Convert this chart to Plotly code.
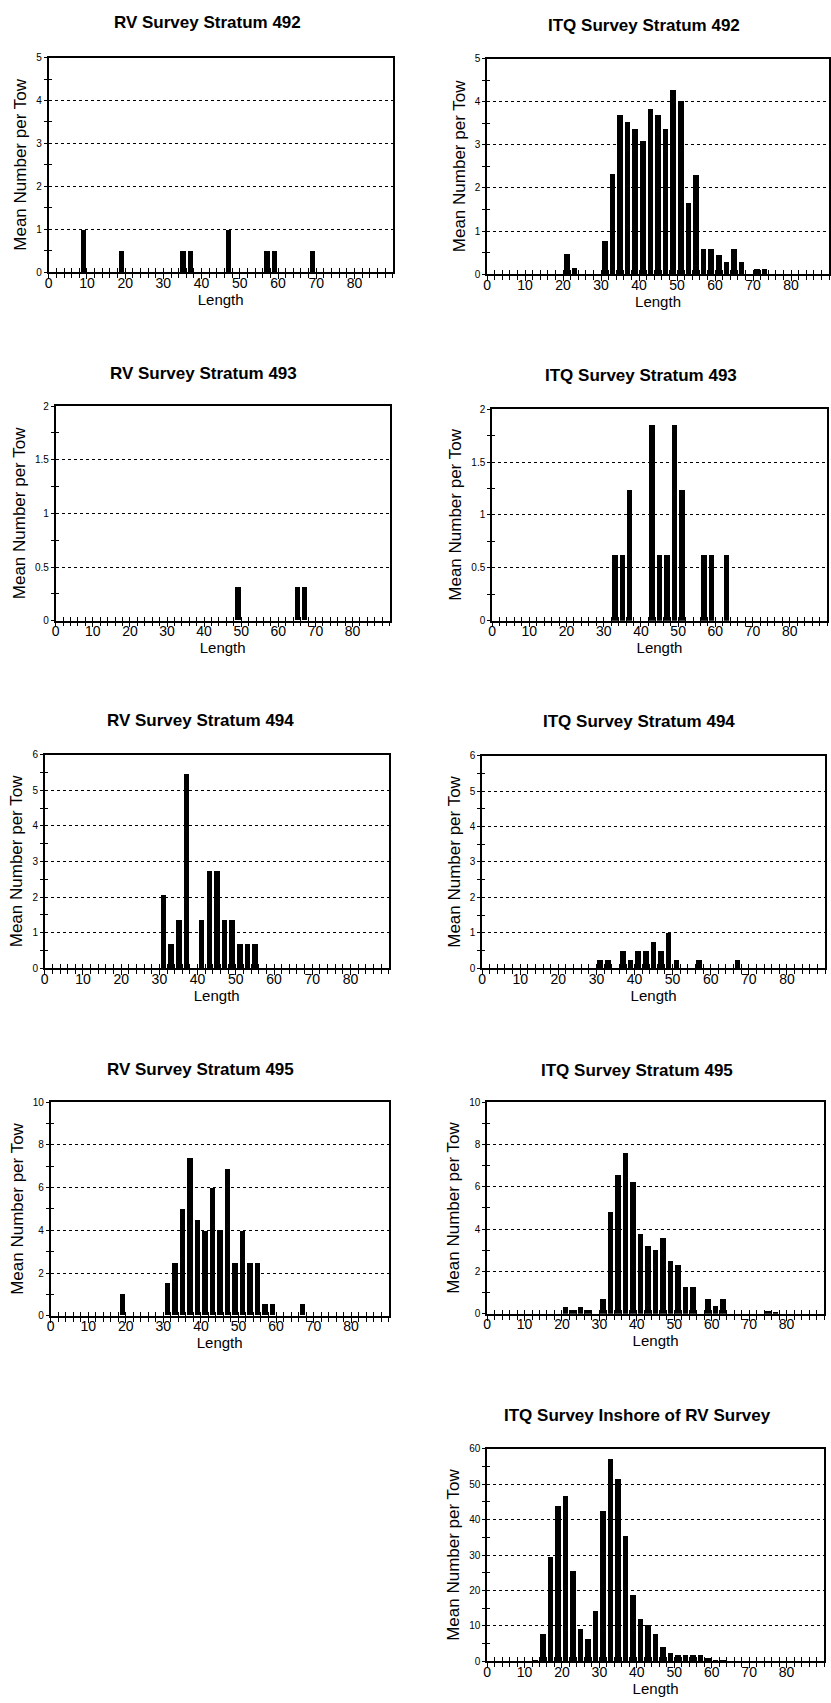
import plotly.graph_objects as go

# ---------------- data ----------------
rv492_len = [9, 19, 35, 37, 47, 57, 59, 69]
rv492_val = [1.0, 0.5, 0.5, 0.5, 1.0, 0.5, 0.5, 0.5]

itq492_len = [21, 23, 31, 33, 35, 37, 39, 41, 43, 45, 47, 49, 51, 53, 55, 57, 59, 61, 63, 65, 67, 71, 73]
itq492_val = [0.48, 0.15, 0.77, 2.32, 3.71, 3.54, 3.38, 3.09, 3.85, 3.70, 3.38, 4.29, 4.02, 1.66, 2.31,
              0.59, 0.59, 0.45, 0.29, 0.59, 0.28, 0.13, 0.13]

rv493_len = [49, 65, 67]
rv493_val = [0.31, 0.31, 0.31]

itq493_len = [33, 35, 37, 43, 45, 47, 49, 51, 57, 59, 63]
itq493_val = [0.62, 0.62, 1.23, 1.85, 0.62, 0.62, 1.85, 1.23, 0.62, 0.62, 0.62]

rv494_len = [31, 33, 35, 37, 41, 43, 45, 47, 49, 51, 53, 55]
rv494_val = [2.06, 0.69, 1.37, 5.48, 1.37, 2.74, 2.74, 1.37, 1.37, 0.69, 0.69, 0.69]

itq494_len = [31, 33, 37, 39, 41, 43, 45, 47, 49, 51, 57, 67]
itq494_val = [0.23, 0.23, 0.5, 0.23, 0.5, 0.5, 0.75, 0.5, 1.0, 0.23, 0.23, 0.23]

rv495_len = [19, 31, 33, 35, 37, 39, 41, 43, 45, 47, 49, 51, 53, 55, 57, 59, 67]
rv495_val = [1.0, 1.5, 2.47, 5.0, 7.38, 4.46, 3.94, 5.98, 3.99, 6.86, 2.47, 3.96, 2.47, 2.47, 0.53, 0.53, 0.53]

itq495_len = [21, 23, 25, 27, 31, 33, 35, 37, 39, 41, 43, 45, 47, 49, 51, 53, 55, 59, 61, 63, 75, 77]
itq495_val = [0.3, 0.15, 0.3, 0.15, 0.7, 4.82, 6.56, 7.59, 6.2, 3.74, 3.18, 2.99, 3.55, 2.47, 2.3,
              1.25, 1.25, 0.7, 0.36, 0.7, 0.12, 0.05]

inshore_len = [13, 15, 17, 19, 21, 23, 25, 27, 29, 31, 33, 35, 37, 39, 41, 43, 45, 47, 49, 51,
               53, 55, 57, 59, 61, 63]
inshore_val = [0.5, 7.8, 29.4, 43.9, 46.8, 25.5, 9.3, 6.3, 14.2, 42.4, 57.3, 51.4, 35.4, 18.9, 12.0,
               10.3, 7.8, 4.0, 2.4, 1.8, 1.7, 1.9, 1.7, 1.0, 0.5, 0.3]

titles = ["RV Survey Stratum 492", "ITQ Survey Stratum 492",
          "RV Survey Stratum 493", "ITQ Survey Stratum 493",
          "RV Survey Stratum 494", "ITQ Survey Stratum 494",
          "RV Survey Stratum 495", "ITQ Survey Stratum 495",
          "ITQ Survey Inshore of RV Survey"]
x_title = "Length"
y_title = "Mean Number per Tow"
x_tickvals = [0, 10, 20, 30, 40, 50, 60, 70, 80]

# ---------------- layout geometry (pixels) ----------------
W, H = 831, 1703
panels = [
    # data, ymax, dtick, minor, plot box (x0,x1,y0,y1), title centre (x,y)
    (rv492_len, rv492_val, 5, 1, 0.5, (45, 391, 52, 268), (205, 17)),
    (itq492_len, itq492_val, 5, 1, 0.5, (486, 830, 53, 270), (644, 20)),
    (rv493_len, rv493_val, 2, 0.5, 0.25, (52, 388, 403, 619), (201, 370)),
    (itq493_len, itq493_val, 2, 0.5, 0.25, (491, 828, 406, 619), (641, 372)),
    (rv494_len, rv494_val, 6, 1, 0.5, (41, 387, 754, 969), (198, 720)),
    (itq494_len, itq494_val, 6, 1, 0.5, (481, 826, 755, 969), (639, 721)),
    (rv495_len, rv495_val, 10, 2, 1, (47, 387, 1104, 1319), (198, 1071)),
    (itq495_len, itq495_val, 10, 2, 1, (486, 825, 1104, 1317), (637, 1072)),
    (inshore_len, inshore_val, 60, 10, 5, (486, 825, 1453, 1667), (637, 1420)),
]

FONT = "Liberation Sans, Arial, sans-serif"
fig = go.Figure()
layout = dict(width=W, height=H, margin=dict(l=0, r=0, t=0, b=0),
              paper_bgcolor="white", plot_bgcolor="white", showlegend=False,
              font=dict(family=FONT, color="black"), bargap=0)
annotations = []
n = len(panels)
for i, (xs, ys, ymax, dt, mdt, box, tpos) in enumerate(panels):
    k = i + 1
    ko = k + n
    x0, x1, y0, y1 = box
    xd = [x0 / W, x1 / W]
    yd = [1 - y1 / H, 1 - y0 / H]
    xn = "x" if k == 1 else f"x{k}"
    yn = "y" if k == 1 else f"y{k}"
    fig.add_trace(go.Bar(x=xs, y=ys, width=1.45, marker=dict(color="black", line=dict(width=0)),
                         xaxis=xn, yaxis=yn))
    xa = "xaxis" if k == 1 else f"xaxis{k}"
    ya = "yaxis" if k == 1 else f"yaxis{k}"
    layout[xa] = dict(domain=xd, anchor=yn, range=[0, 90],
                      tickvals=x_tickvals,
                      ticks="outside", ticklen=5, tickwidth=1, tickcolor="black",
                      ticklabelstandoff=-8,
                      minor=dict(dtick=2, tick0=0, ticks="outside", ticklen=4, tickcolor="black"),
                      showline=True, linecolor="black", linewidth=1.6, mirror=True,
                      showgrid=False, zeroline=False,
                      tickfont=dict(size=14, family=FONT, color="black"),
                      title=dict(text=x_title, font=dict(size=15, family=FONT), standoff=0))
    layout[ya] = dict(domain=yd, anchor=xn, range=[0, ymax], dtick=dt, tick0=0,
                      ticks="outside", ticklen=3, tickwidth=1, tickcolor="black",
                      minor=dict(dtick=mdt, tick0=0, ticks="outside", ticklen=3, tickcolor="black"),
                      showline=True, linecolor="black", linewidth=1.6, mirror=True,
                      showgrid=True, gridcolor="black", griddash="dot", gridwidth=1,
                      zeroline=False,
                      tickfont=dict(size=10, family=FONT, color="black"),
                      title=dict(text=y_title, font=dict(size=17, family=FONT), standoff=5))
    # overlay axes to make the ticks cross the axis lines
    layout[f"xaxis{ko}"] = dict(overlaying=xn, anchor=yn, range=[0, 90], dtick=2, tick0=0,
                                ticks="inside", ticklen=4, tickcolor="black",
                                showticklabels=False, showline=False, showgrid=False,
                                zeroline=False)
    layout[f"yaxis{ko}"] = dict(overlaying=yn, anchor=xn, range=[0, ymax], dtick=mdt, tick0=0,
                                ticks="inside", ticklen=3, tickcolor="black",
                                showticklabels=False, showline=False, showgrid=False,
                                zeroline=False)
    annotations.append(dict(text=f"<b>{titles[i]}</b>", x=tpos[0] / W, y=1 - tpos[1] / H,
                            xref="paper", yref="paper", xanchor="center", yanchor="middle",
                            showarrow=False, font=dict(size=17, family=FONT, color="black")))
    # invisible trace so the overlay axes render
    fig.add_trace(go.Scatter(x=[0], y=[0], mode="markers", marker=dict(opacity=0),
                             xaxis=f"x{ko}", yaxis=f"y{ko}", hoverinfo="skip"))

layout["annotations"] = annotations
fig.update_layout(**layout)
fig.write_html("out.html")
